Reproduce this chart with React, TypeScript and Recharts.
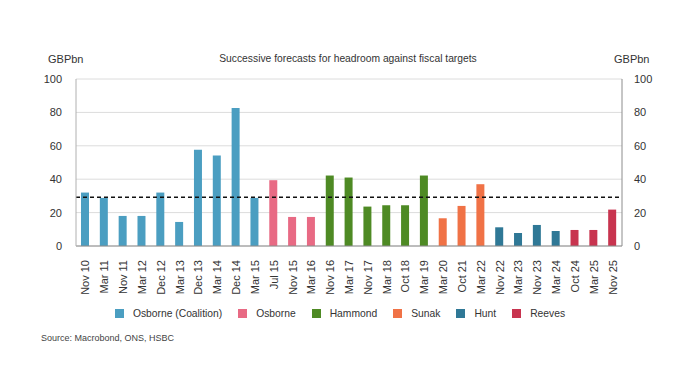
import React from 'react';
import { ComposedChart, Bar, Line, XAxis, YAxis, CartesianGrid, ReferenceLine, Legend } from 'recharts';

const categories = [
    'Nov 10', 'Mar 11', 'Nov 11', 'Mar 12', 'Dec 12', 'Mar 13', 'Dec 13', 'Mar 14', 'Dec 14', 'Mar 15',
    'Jul 15', 'Nov 15', 'Mar 16',
    'Nov 16', 'Mar 17', 'Nov 17', 'Mar 18', 'Oct 18', 'Mar 19',
    'Mar 20', 'Oct 21', 'Mar 22',
    'Nov 22', 'Mar 23', 'Nov 23', 'Mar 24',
    'Oct 24', 'Mar 25', 'Nov 25',
];

const headroom = [
    32, 28.8, 18, 18, 32, 14.4, 57.6, 54.2, 82.6, 28.8,
    39.4, 17.4, 17.4,
    42.2, 41, 23.6, 24.4, 24.4, 42.2,
    16.6, 24, 37,
    11.2, 7.8, 12.6, 9,
    9.6, 9.6, 21.8,
];

const chancellorOf = [
    'coalition', 'coalition', 'coalition', 'coalition', 'coalition', 'coalition', 'coalition', 'coalition', 'coalition', 'coalition',
    'osborne', 'osborne', 'osborne',
    'hammond', 'hammond', 'hammond', 'hammond', 'hammond', 'hammond',
    'sunak', 'sunak', 'sunak',
    'hunt', 'hunt', 'hunt', 'hunt',
    'reeves', 'reeves', 'reeves',
];

const chancellors = [
    { key: 'coalition', label: 'Osborne (Coalition)', color: '#4b9ec1' },
    { key: 'osborne', label: 'Osborne', color: '#e86a84' },
    { key: 'hammond', label: 'Hammond', color: '#4e8a24' },
    { key: 'sunak', label: 'Sunak', color: '#f07246' },
    { key: 'hunt', label: 'Hunt', color: '#2f7896' },
    { key: 'reeves', label: 'Reeves', color: '#c8344f' },
];

const yTicks = [0, 20, 40, 60, 80, 100];
const averageHeadroom = 29.2;

const data = categories.map((name, i) => ({ name, total: headroom[i], [chancellorOf[i]]: headroom[i] }));

const font = '"Liberation Sans", Arial, sans-serif';
const textColor = '#333';

const XTick = (props: any) => {
    const { x, y, payload } = props;
    return (
        <text
            x={x}
            y={y}
            transform={`rotate(-90 ${x} ${y})`}
            dy={4}
            dx={-6}
            textAnchor="end"
            fontSize={11}
            fill={textColor}
            fontFamily={font}
        >
            {payload.value}
        </text>
    );
};

const LegendContent = () => (
    <div style={{ display: 'flex', justifyContent: 'center', fontFamily: font, fontSize: 10.3, color: textColor }}>
        {chancellors.map((c) => (
            <div key={c.key} style={{ display: 'flex', alignItems: 'center', marginRight: 16 }}>
                <span style={{ width: 9, height: 9, background: c.color, display: 'inline-block', marginRight: 9 }} />
                <span>{c.label}</span>
            </div>
        ))}
    </div>
);

export default function App() {
    return (
        <div style={{ position: 'absolute', left: 0, top: 0, width: 696, height: 390, background: '#fff', fontFamily: font }}>
            <div style={{ position: 'absolute', left: 48, top: 53, fontSize: 11, color: textColor }}>GBPbn</div>
            <div style={{ position: 'absolute', left: 0, width: 696, top: 53, fontSize: 10.3, color: textColor, textAlign: 'center' }}>
                Successive forecasts for headroom against fiscal targets
            </div>
            <div style={{ position: 'absolute', left: 614, top: 53, fontSize: 11, color: textColor }}>GBPbn</div>
            <ComposedChart
                width={696}
                height={390}
                data={data}
                margin={{ top: 79, right: 0, bottom: 62, left: 0 }}
            >
                <CartesianGrid vertical={false} stroke="#dcdcdc" yAxisId="left" />
                <XAxis
                    dataKey="name"
                    interval={0}
                    height={62}
                    tickLine={false}
                    axisLine={{ stroke: '#8c8c8c' }}
                    tick={<XTick />}
                />
                <YAxis
                    yAxisId="left"
                    orientation="left"
                    width={76}
                    domain={[0, 100]}
                    ticks={yTicks}
                    tickLine={false}
                    axisLine={{ stroke: '#b0b0b0' }}
                    tick={{ fontSize: 11, fill: textColor, fontFamily: font }}
                    tickMargin={8}
                />
                <YAxis
                    yAxisId="right"
                    orientation="right"
                    width={74}
                    domain={[0, 100]}
                    ticks={yTicks}
                    tickLine={false}
                    axisLine={{ stroke: '#8c8c8c' }}
                    tick={{ fontSize: 11, fill: textColor, fontFamily: font }}
                    tickMargin={6}
                />
                {chancellors.map((c) => (
                    <Bar
                        key={c.key}
                        yAxisId="left"
                        dataKey={c.key}
                        name={c.label}
                        stackId="a"
                        fill={c.color}
                        barSize={8}
                        isAnimationActive={false}
                    />
                ))}
                <Line
                    yAxisId="right"
                    dataKey="total"
                    stroke="none"
                    dot={false}
                    activeDot={false}
                    legendType="none"
                    isAnimationActive={false}
                />
                <ReferenceLine
                    yAxisId="left"
                    y={averageHeadroom}
                    stroke="#111"
                    strokeWidth={1.3}
                    strokeDasharray="4 3"
                />
                <Legend verticalAlign="bottom" height={20} content={<LegendContent />} />
            </ComposedChart>
            <div style={{ position: 'absolute', left: 41, top: 333, fontSize: 9, color: '#444' }}>
                Source: Macrobond, ONS, HSBC
            </div>
        </div>
    );
}
